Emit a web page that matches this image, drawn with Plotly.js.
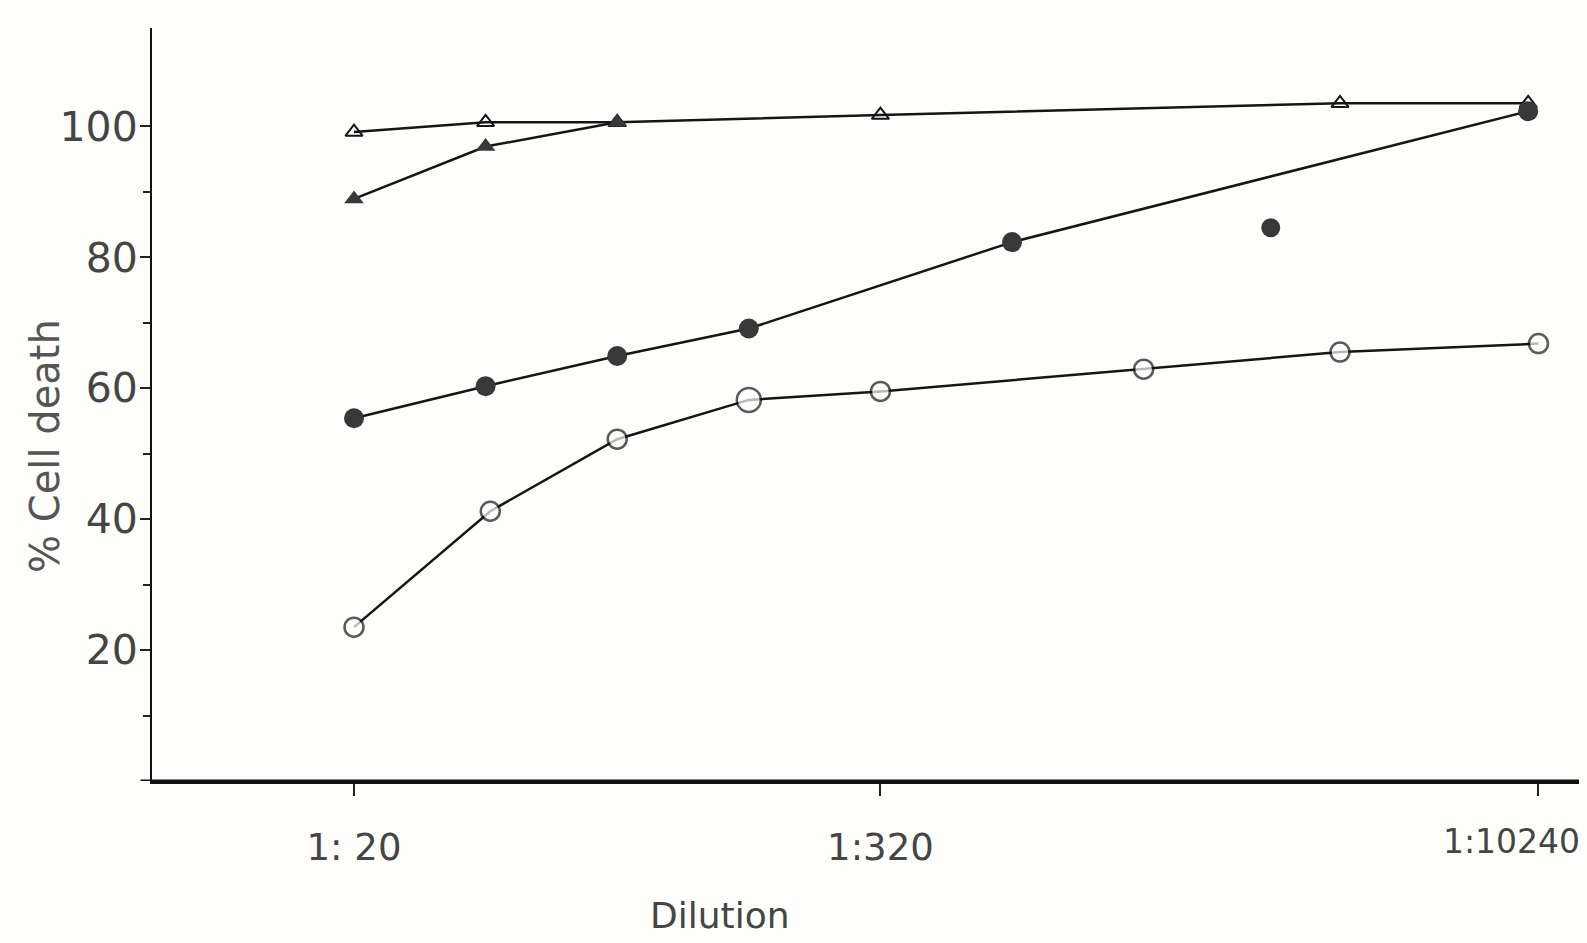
<!DOCTYPE html>
<html>
<head>
<meta charset="utf-8">
<script src="https://cdn.plot.ly/plotly-3.0.1.min.js"></script>
<style>
  html, body { margin: 0; padding: 0; background: #fefefb; }
  #chart { width: 1587px; height: 943px; }
</style>
</head>
<body>
<div id="chart"></div>
<script>
// Dilution factors (1:x) and % cell death
const openTriX = [20, 40, 80, 320, 3600, 9700];
const openTriY = [99.1, 100.6, 100.6, 101.7, 103.5, 103.5];

const filledTriX = [20, 40, 80];
const filledTriY = [88.9, 96.9, 100.6];

const filledCircX = [20, 40, 80, 160, 640, 9700];
const filledCircY = [55.4, 60.3, 64.9, 69.1, 82.3, 102.3];

const isolatedX = [2500];
const isolatedY = [84.5];

const openCircX = [20, 41, 80, 160, 320, 1280, 3600, 10240];
const openCircY = [23.5, 41.2, 52.2, 58.2, 59.5, 62.9, 65.5, 66.8];
const openCircSize = [19, 19, 19, 24, 19, 19, 19, 19];

const xTickVals = [20, 320, 10240];
const xTickText = ['1: 20', '1:320', ''];
const lastTickLabel = '1:10240';
const yTickVals = [20, 40, 60, 80, 100];
const yMinorVals = [10, 30, 50, 70, 90];

const lineColor = '#151515';
const fillColor = '#383838';
const textColor = '#454545';

const traces = [
  {
    x: openTriX, y: openTriY, mode: 'lines+markers', type: 'scatter',
    line: { color: lineColor, width: 2.5 },
    marker: { symbol: 'triangle-up-open', size: 15, color: lineColor, line: { width: 2, color: lineColor } }
  },
  {
    x: filledTriX, y: filledTriY, mode: 'lines+markers', type: 'scatter',
    line: { color: lineColor, width: 2.5 },
    marker: { symbol: 'triangle-up', size: 17, color: fillColor }
  },
  {
    x: filledCircX, y: filledCircY, mode: 'lines+markers', type: 'scatter',
    line: { color: lineColor, width: 2.5 },
    marker: { symbol: 'circle', size: 20, color: fillColor }
  },
  {
    x: isolatedX, y: isolatedY, mode: 'markers', type: 'scatter',
    marker: { symbol: 'circle', size: 19, color: fillColor }
  },
  {
    x: openCircX, y: openCircY, mode: 'lines+markers', type: 'scatter',
    line: { color: lineColor, width: 2.5 },
    marker: { symbol: 'circle', size: openCircSize, color: '#ffffff', line: { width: 2.5, color: lineColor } }
  }
];

const layout = {
  width: 1587, height: 943,
  margin: { l: 152, r: 8, t: 28, b: 162 },
  paper_bgcolor: '#fefefb',
  plot_bgcolor: '#fefefb',
  showlegend: false,
  font: { family: 'DejaVu Sans, sans-serif', color: textColor },
  xaxis: {
    type: 'log',
    range: [0.839, 4.103],
    tickvals: xTickVals,
    ticktext: xTickText,
    ticks: 'outside', ticklen: 12, tickwidth: 2, tickcolor: '#222',
    ticklabelstandoff: 20,
    showline: true, linecolor: '#111', linewidth: 3,
    showgrid: false, zeroline: false,
    tickfont: { size: 37, family: 'DejaVu Sans, sans-serif', color: textColor }
  },
  yaxis: {
    range: [0, 115],
    tickvals: yTickVals,
    ticks: 'outside', ticklen: 10, tickwidth: 2, tickcolor: '#222',
    ticklabelstandoff: -6,
    showline: true, linecolor: '#111', linewidth: 2,
    showgrid: false, zeroline: false,
    tickfont: { size: 41, family: 'DejaVu Sans, sans-serif', color: textColor },
    minor: { tickvals: yMinorVals, ticks: 'outside', ticklen: 7, tickwidth: 2, tickcolor: '#222', showgrid: false }
  },
  shapes: [
    { type: 'line', xref: 'paper', yref: 'y', x0: -0.008, x1: 1, y0: 0, y1: 0,
      line: { color: '#111', width: 3 } }
  ],
  annotations: [
    {
      text: 'Dilution', xref: 'paper', yref: 'paper',
      x: 0.398, y: -0.178, xanchor: 'center', yanchor: 'middle',
      showarrow: false,
      font: { size: 36, family: 'DejaVu Sans, sans-serif', color: textColor }
    },
    {
      text: '% Cell death', xref: 'paper', yref: 'paper',
      x: -0.075, y: 0.445, xanchor: 'center', yanchor: 'middle', textangle: -90,
      showarrow: false,
      font: { size: 40, family: 'DejaVu Sans, sans-serif', color: '#555' }
    },
    {
      text: lastTickLabel, xref: 'paper', yref: 'paper',
      x: 1.002, y: -0.08, xanchor: 'right', yanchor: 'middle',
      showarrow: false,
      font: { size: 33, family: 'DejaVu Sans, sans-serif', color: textColor }
    }
  ]
};

Plotly.newPlot('chart', traces, layout, { displayModeBar: false, staticPlot: true });
</script>
</body>
</html>
